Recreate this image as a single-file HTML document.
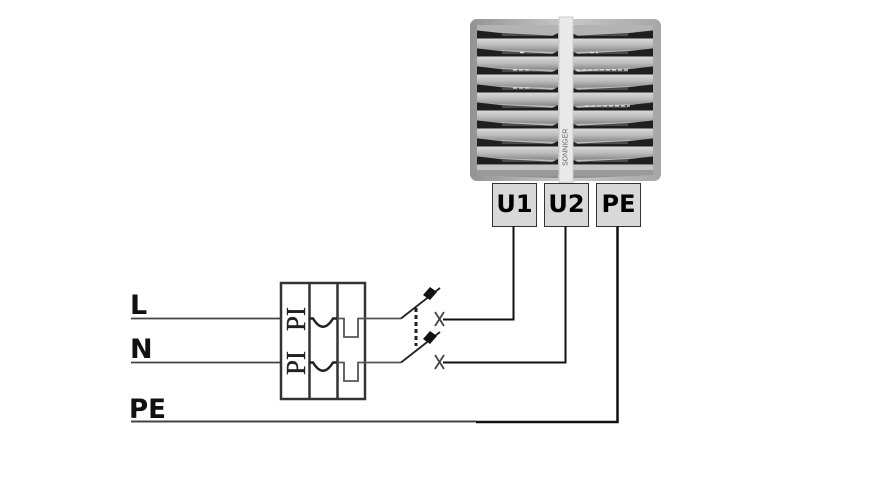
<!DOCTYPE html>
<html><head><meta charset="utf-8"><style>
html,body{margin:0;padding:0;background:#fff;width:880px;height:500px;overflow:hidden}
svg{display:block}
.s{font-family:"DejaVu Sans","Liberation Sans",sans-serif;font-weight:bold}
.p{font-family:"Liberation Serif",serif}
</style></head><body>
<svg width="880" height="500" viewBox="0 0 880 500" xmlns="http://www.w3.org/2000/svg">
<defs>
<linearGradient id="fr" x1="0" x2="1" y1="0" y2="0"><stop offset="0" stop-color="#939393"/><stop offset=".5" stop-color="#c8c8c8"/><stop offset="1" stop-color="#a6a6a6"/></linearGradient>
<linearGradient id="lv" x1="0" x2="0" y1="0" y2="1"><stop offset="0" stop-color="#dcdcdc"/><stop offset=".5" stop-color="#bdbdbd"/><stop offset="1" stop-color="#868686"/></linearGradient>
<g id="row">
<path d="M477 38 H558 V52 Q515 51 477 49Z" fill="url(#lv)"/>
<path d="M653 38 H572 V52 Q615 51 653 49Z" fill="url(#lv)"/>
<path d="M477 30.500 L502 33 L540 35 L558 36 V38.500 H477Z" fill="#4c4c4c"/>
<path d="M653 30.500 L628 33 L590 35 L572 36 V38.500 H653Z" fill="#4c4c4c"/>
<path d="M477 30.500 L502 33.500 V36 H552 L558 33 V38.500 H477Z" fill="#1f1f1f"/>
<path d="M653 30.500 L628 33.500 V36 H578 L572 33 V38.500 H653Z" fill="#1f1f1f"/>
</g>
</defs>
<rect x="470" y="19" width="191" height="162" rx="7" fill="url(#fr)"/>
<rect x="477" y="25" width="176" height="150" fill="#bcbcbc"/>
<path d="M477 25H653V32L565 37L477 31Z" fill="#b3b3b3"/>
<use href="#row"/>
<use href="#row" y="18"/>
<use href="#row" y="36"/>
<use href="#row" y="54"/>
<use href="#row" y="72"/>
<use href="#row" y="90"/>
<use href="#row" y="108"/>
<use href="#row" y="126"/>
<rect x="477" y="165" width="176" height="5" fill="#c4c4c4"/>
<rect x="477" y="170" width="176" height="5" fill="#9a9a9a"/>
<path d="M513 70H530M513 88H530M576 70H630M585 106H630M520 52.500H524M590 52.500H598" stroke="#e4e4e4" stroke-width="1.200" stroke-dasharray="4 2" fill="none"/>
<rect x="559" y="17" width="14" height="166" fill="#e9e9e9" stroke="#cccccc" stroke-width="1"/>
<text transform="translate(567.500,166) rotate(-90)" font-size="7" fill="#666" style="font-family:'Liberation Sans',sans-serif">SONNIGER</text>

<g fill="#d8d8d8" stroke="#333" stroke-width="1">
<rect x="492.500" y="183.500" width="44" height="43"/>
<rect x="544.500" y="183.500" width="44" height="43"/>
<rect x="596.500" y="183.500" width="44" height="43"/>
</g>
<g font-size="24" fill="#000" text-anchor="middle" class="s">
<text x="514.500" y="212">U1</text>
<text x="566.500" y="212">U2</text>
<text x="618.500" y="212">PE</text>
</g>

<path d="M513.500 226V319.500H443" fill="none" stroke="#111" stroke-width="2"/>
<path d="M565.500 226V362.500H443" fill="none" stroke="#111" stroke-width="2"/>
<path d="M617.500 226V422H476" fill="none" stroke="#111" stroke-width="2.500"/>
<path d="M476 421.500H131" fill="none" stroke="#444" stroke-width="2"/>
<path d="M131 318.500H281M131 362.500H281" stroke="#444" stroke-width="1.800" fill="none"/>

<g fill="none" stroke="#333" stroke-width="2.500">
<rect x="281" y="283" width="84" height="116"/>
<path d="M309.500 283V399M337.500 283V399"/>
</g>
<g fill="none" stroke="#555" stroke-width="1.800">
<path d="M337 318.500H344V337H358V318.500H401"/>
<path d="M337 362.500H344V381H358V362.500H401"/>
</g>
<g fill="none" stroke="#222" stroke-width="2.400">
<path d="M309 318.500H313Q323 335 333 318.500H337"/>
<path d="M309 362.500H313Q323 379 333 362.500H337"/>
<path d="M401 318.500L440 288M401 362.500L440 332" stroke-width="1.800"/>
</g>
<path d="M416 308V346" stroke="#222" stroke-width="3" stroke-dasharray="4 3" fill="none"/>
<path d="M423 295l7-8 7 5-7 8zM423 339l7-8 7 5-7 8z" fill="#111"/>
<path d="M435 312l9 14M444 312l-9 14M435 355l9 14M444 355l-9 14" stroke="#444" stroke-width="1.800" fill="none"/>

<g font-size="27" fill="#222" stroke="#222" stroke-width=".4" class="p">
<text transform="translate(305,331) rotate(-90)">PI</text>
<text transform="translate(305,375) rotate(-90)">PI</text>
</g>
<g font-size="27" fill="#111" class="s">
<text x="130" y="314">L</text>
<text x="130" y="358">N</text>
<text x="129" y="418" textLength="37" lengthAdjust="spacingAndGlyphs">PE</text>
</g>
</svg>
</body></html>
